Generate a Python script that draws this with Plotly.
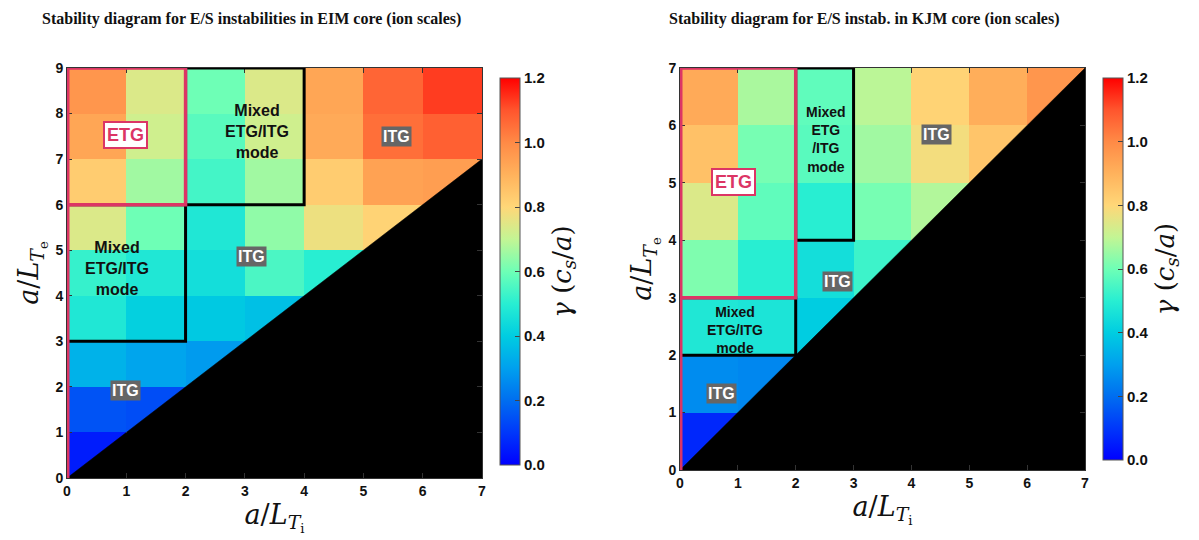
import plotly.graph_objects as go

# ---------------- data ----------------
x_ticks_left = [0, 1, 2, 3, 4, 5, 6, 7]
y_ticks_left = [0, 1, 2, 3, 4, 5, 6, 7, 8, 9]
# growth rate gamma (c_s/a), rows from a/LTe = 0-1 upward, cols a/LTi = 0-1, 1-2, ...
gamma_left = [
    [0.05],
    [0.15, 0.14],
    [0.34, 0.31, 0.29],
    [0.48, 0.41, 0.39, 0.37],
    [0.52, 0.48, 0.45, 0.55, 0.50],
    [0.74, 0.60, 0.48, 0.64, 0.77, 0.81],
    [0.83, 0.66, 0.54, 0.66, 0.83, 0.94, 0.95],
    [0.93, 0.72, 0.57, 0.72, 0.92, 1.05, 1.08],
    [0.97, 0.74, 0.60, 0.74, 0.93, 1.07, 1.13],
]

x_ticks_right = [0, 1, 2, 3, 4, 5, 6, 7]
y_ticks_right = [0, 1, 2, 3, 4, 5, 6, 7]
gamma_right = [
    [0.07],
    [0.26, 0.25],
    [0.48, 0.47, 0.40],
    [0.62, 0.50, 0.45, 0.53],
    [0.74, 0.58, 0.50, 0.61, 0.68],
    [0.86, 0.61, 0.57, 0.66, 0.78, 0.85],
    [0.92, 0.67, 0.58, 0.69, 0.81, 0.91, 0.97],
]

cbar_ticks = [0.0, 0.2, 0.4, 0.6, 0.8, 1.0, 1.2]

# regions (x0, x1, y0, y1)
etg_box_left = (0, 2, 6, 9)
mixed_boxes_left = [(2, 4, 6, 9), (0, 2, 3, 6)]
etg_box_right = (0, 2, 3, 7)
mixed_boxes_right = [(2, 3, 4, 7), (0, 2, 2, 3)]

colorscale = [
    [0.0, "rgb(0,0,255)"],
    [0.0833, "rgb(0,55,250)"],
    [0.1667, "rgb(0,110,240)"],
    [0.25, "rgb(0,160,238)"],
    [0.3333, "rgb(0,205,225)"],
    [0.4167, "rgb(40,238,210)"],
    [0.5, "rgb(110,255,182)"],
    [0.5833, "rgb(195,245,148)"],
    [0.6667, "rgb(255,215,120)"],
    [0.75, "rgb(255,178,92)"],
    [0.8333, "rgb(255,138,70)"],
    [0.9167, "rgb(255,85,45)"],
    [1.0, "rgb(255,0,0)"],
]

PINK = "#dc3565"
OFF = 8                      # page body margin
FW, FH = 1199 - OFF, 540 - OFF


def fx(px):
    return (px - OFF) / FW


def fy(py):
    return 1 - (py - OFF) / FH


def grid(rows, ncols):
    z = []
    for r in rows:
        z.append(list(r) + [None] * (ncols - len(r)))
    return z


fig = go.Figure()

panels = [
    dict(xa="x", ya="y", xt=x_ticks_left, yt=y_ticks_left, g=gamma_left,
         dom_x=[fx(67), fx(482)], dom_y=[fy(478), fy(68)], cb_x=fx(490),
         cb_y=[fy(475), fy(68)]),
    dict(xa="x2", ya="y2", xt=x_ticks_right, yt=y_ticks_right, g=gamma_right,
         dom_x=[fx(680), fx(1085)], dom_y=[fy(470), fy(68)], cb_x=fx(1093),
         cb_y=[fy(470), fy(68)]),
]

for p in panels:
    nx = len(p["xt"]) - 1
    xc = [v + 0.5 for v in p["xt"][:-1]]
    yc = [v + 0.5 for v in p["yt"][:-1]]
    fig.add_trace(go.Heatmap(
        x=xc, y=yc, z=grid(p["g"], nx), xaxis=p["xa"], yaxis=p["ya"],
        zmin=0, zmax=1.2, colorscale=colorscale, hoverongaps=False,
        colorbar=dict(
            x=p["cb_x"], xanchor="left", y=p["cb_y"][1], yanchor="top",
            len=p["cb_y"][1] - p["cb_y"][0], lenmode="fraction",
            thickness=20, outlinewidth=1, outlinecolor="#555",
            tickvals=cbar_ticks, ticktext=[f"{v:.1f}" for v in cbar_ticks],
            ticks="inside", ticklen=5, tickcolor="#444",
            tickfont=dict(family="Liberation Sans", size=15, color="#111", weight="bold"),
            title=dict(text="<i>γ</i> (<i>c<sub>s</sub></i>/<i>a</i>)", side="right",
                       font=dict(family="DejaVu Serif", size=26, color="#111")),
        ),
    ))
    # black stable region below the diagonal
    fig.add_trace(go.Scatter(
        x=[p["xt"][0], p["xt"][-1], p["xt"][-1], p["xt"][0]],
        y=[p["yt"][0], p["yt"][0], p["xt"][-1], p["yt"][0]],
        fill="toself", fillcolor="black", mode="lines",
        line=dict(color="black", width=0.5), xaxis=p["xa"], yaxis=p["ya"],
        hoverinfo="skip", showlegend=False,
    ))

axis_common = dict(
    showgrid=False, zeroline=False, ticks="inside", ticklen=5, tickcolor="#333",
    showline=True, linecolor="#333", linewidth=1, mirror="ticks", automargin=False,
    tickfont=dict(family="Liberation Sans", size=14, color="#111", weight="bold"),
)

xt_title = "<i>a</i>/<i>L<sub>T</sub></i><sub><sub>i</sub></sub>"
yt_title = "<i>a</i>/<i>L<sub>T</sub></i><sub><sub>e</sub></sub>"
ax_title_font = dict(family="DejaVu Serif", size=27, color="#111")

fig.update_layout(
    width=FW, height=FH, margin=dict(l=0, r=0, t=0, b=0, autoexpand=False),
    paper_bgcolor="white", plot_bgcolor="white", showlegend=False,
    xaxis=dict(domain=panels[0]["dom_x"], range=[0, 7], tickvals=x_ticks_left,
               anchor="y", title=dict(text=xt_title, standoff=2, font=ax_title_font),
               **axis_common),
    yaxis=dict(domain=panels[0]["dom_y"], range=[0, 9], tickvals=y_ticks_left,
               anchor="x", title=dict(text=yt_title, standoff=8, font=ax_title_font),
               **axis_common),
    xaxis2=dict(domain=panels[1]["dom_x"], range=[0, 7], tickvals=x_ticks_right,
                anchor="y2", title=dict(text=xt_title, standoff=2, font=ax_title_font),
                **axis_common),
    yaxis2=dict(domain=panels[1]["dom_y"], range=[0, 7], tickvals=y_ticks_right,
                anchor="x2", title=dict(text=yt_title, standoff=8, font=ax_title_font),
                **axis_common),
)

# titles
title_font = dict(family="Liberation Serif", size=16, color="#111", weight="bold")
fig.add_annotation(text="Stability diagram for E/S instabilities in EIM core (ion scales)",
                   x=fx(251), y=1, xref="paper", yref="paper",
                   xanchor="center", yanchor="top", showarrow=False, font=title_font)
fig.add_annotation(text="Stability diagram for E/S instab. in KJM core (ion scales)",
                   x=fx(864), y=1, xref="paper", yref="paper",
                   xanchor="center", yanchor="top", showarrow=False, font=title_font)


def rect(box, color, width, xr, yr):
    x0, x1, y0, y1 = box
    fig.add_shape(type="rect", x0=x0, x1=x1, y0=y0, y1=y1, xref=xr, yref=yr,
                  line=dict(color=color, width=width), fillcolor="rgba(0,0,0,0)")


# boxes left
for b in mixed_boxes_left:
    rect(b, "black", 3, "x", "y")
rect(etg_box_left, PINK, 3.5, "x", "y")
fig.add_shape(type="line", x0=0, x1=0, y0=0, y1=9, xref="x", yref="y",
              line=dict(color=PINK, width=5))
# boxes right
for b in mixed_boxes_right:
    rect(b, "black", 3, "x2", "y2")
rect(etg_box_right, PINK, 3.5, "x2", "y2")
fig.add_shape(type="line", x0=0, x1=0, y0=0, y1=7, xref="x2", yref="y2",
              line=dict(color=PINK, width=5))

lab_font = dict(family="Liberation Sans", size=16, color="#111", weight="bold")
lab_font_s = dict(family="Liberation Sans", size=14, color="#111", weight="bold")
itg_font = dict(family="Liberation Sans", size=16, color="white", weight="bold")
etg_font = dict(family="Liberation Sans", size=18, color=PINK, weight="bold")


def itg(x, y, xr, yr):
    fig.add_annotation(text="ITG", x=x, y=y, xref=xr, yref=yr, showarrow=False,
                       font=itg_font, bgcolor="#666666", borderpad=1)


def etg(x, y, xr, yr):
    fig.add_annotation(text="ETG", x=x, y=y, xref=xr, yref=yr, showarrow=False,
                       font=etg_font, bgcolor="white", bordercolor=PINK,
                       borderwidth=2, borderpad=2)


# left annotations
etg(0.98, 7.52, "x", "y")
fig.add_annotation(text="Mixed<br>ETG/ITG<br>mode", x=3.2, y=7.6, xref="x", yref="y",
                   showarrow=False, font=lab_font)
fig.add_annotation(text="Mixed<br>ETG/ITG<br>mode", x=0.85, y=4.6, xref="x", yref="y",
                   showarrow=False, font=lab_font)
itg(5.56, 7.5, "x", "y")
itg(3.12, 4.87, "x", "y")
itg(0.98, 1.93, "x", "y")

# right annotations
etg(0.93, 5.02, "x2", "y2")
fig.add_annotation(text="Mixed<br>ETG<br>/ITG<br>mode", x=2.52, y=5.75, xref="x2", yref="y2",
                   showarrow=False, font=lab_font_s)
fig.add_annotation(text="Mixed<br>ETG/ITG<br>mode", x=0.95, y=2.44, xref="x2", yref="y2",
                   showarrow=False, font=lab_font_s)
itg(4.44, 5.84, "x2", "y2")
itg(2.73, 3.29, "x2", "y2")
itg(0.71, 1.34, "x2", "y2")

fig.write_html("out.html")
